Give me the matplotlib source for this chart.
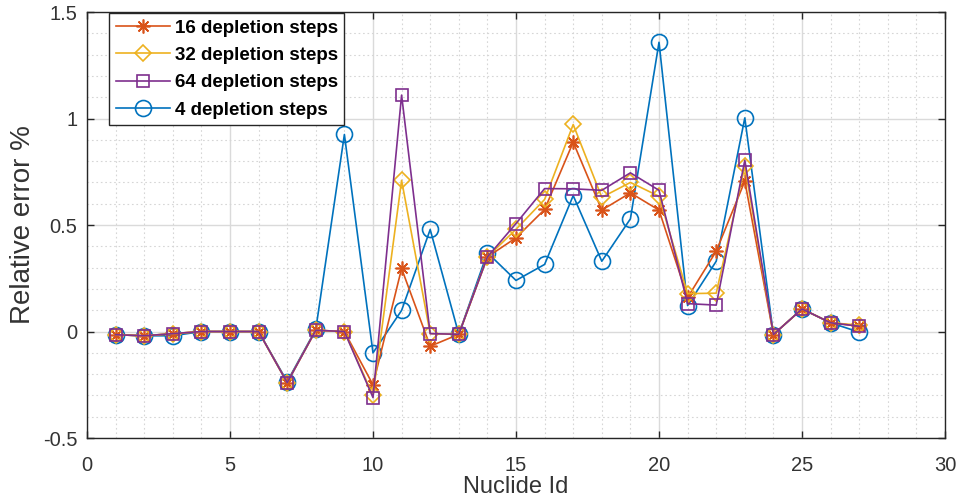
import matplotlib
matplotlib.use("Agg")
import matplotlib.pyplot as plt
from matplotlib.ticker import MultipleLocator

plt.rcParams['font.family'] = ['Liberation Sans', 'DejaVu Sans']

nuclide_id = list(range(1, 28))

steps16 = [-0.015, -0.02, -0.01, 0.0, 0.0, 0.0, -0.24, 0.006, 0.0, -0.25,
           0.296, -0.069, -0.013, 0.35, 0.44, 0.573, 0.889, 0.57, 0.651, 0.57,
           0.16, 0.377, 0.706, -0.014, 0.106, 0.041, 0.025]
steps32 = [-0.015, -0.02, -0.01, 0.0, 0.0, 0.0, -0.24, 0.006, 0.0, -0.30,
           0.71, -0.01, -0.013, 0.35, 0.48, 0.62, 0.972, 0.63, 0.70, 0.635,
           0.178, 0.18, 0.776, -0.014, 0.106, 0.041, 0.03]
steps64 = [-0.015, -0.02, -0.01, 0.0, 0.0, 0.0, -0.24, 0.006, 0.0, -0.31,
           1.11, -0.01, -0.013, 0.35, 0.507, 0.671, 0.67, 0.663, 0.745, 0.663,
           0.131, 0.124, 0.804, -0.014, 0.106, 0.041, 0.025]
steps4 = [-0.015, -0.02, -0.02, 0.0, 0.0, 0.0, -0.235, 0.01, 0.925, -0.10,
          0.099, 0.479, -0.013, 0.37, 0.24, 0.315, 0.638, 0.33, 0.529, 1.358,
          0.122, 0.33, 1.003, -0.014, 0.106, 0.041, -0.003]

labels = ['16 depletion steps', '32 depletion steps', '64 depletion steps', '4 depletion steps']

fig = plt.figure(figsize=(9.6, 5.01), dpi=100)
ax = fig.add_axes([0.0906, 0.1257, 0.8938, 0.8503])

lw = 1.2
l4, = ax.plot(nuclide_id, steps4, color='#0072BD', marker='o', mfc='none', ms=11.5, lw=lw, mew=1.2, zorder=3)
l16, = ax.plot(nuclide_id, steps16, color='#D95319', marker=(8, 2, 0), mfc='none', ms=10, lw=lw, mew=1.2, zorder=4)
l32, = ax.plot(nuclide_id, steps32, color='#EDB120', marker='D', mfc='none', ms=8.5, lw=lw, mew=1.2, zorder=5)
l64, = ax.plot(nuclide_id, steps64, color='#7E2F8E', marker='s', mfc='none', ms=9, lw=lw, mew=1.2, zorder=6)

ax.set_xlim(0, 30)
ax.set_ylim(-0.5, 1.5)
ax.xaxis.set_major_locator(MultipleLocator(5))
ax.xaxis.set_minor_locator(MultipleLocator(1))
ax.yaxis.set_minor_locator(MultipleLocator(0.1))
ax.set_yticks([-0.5, 0, 0.5, 1, 1.5])
ax.set_yticklabels(['-0.5', '0', '0.5', '1', '1.5'])

ax.grid(True, which='major', color='#dadada', lw=1.0, ls='-', zorder=0)
ax.grid(True, which='minor', color='#d6d6d6', lw=0.8, ls=(0, (1.5, 2.5)), zorder=0)
ax.set_axisbelow(True)

ax.tick_params(which='both', direction='in', top=True, right=True, colors='#262626',
               labelcolor='#333333')
ax.tick_params(which='major', length=5, width=1.0)
ax.tick_params(which='minor', length=0)
ax.tick_params(axis='x', labelsize=14.5, pad=13)
ax.tick_params(axis='y', labelsize=14.5, pad=7)
for s in ax.spines.values():
    s.set_color('#262626')
    s.set_linewidth(1.0)

ax.set_xlabel('Nuclide Id', fontsize=17, color='#333333', labelpad=1)
ax.set_ylabel('Relative error %', fontsize=20, color='#333333', labelpad=5)

leg = ax.legend([l16, l32, l64, l4], labels, loc='upper left',
                bbox_to_anchor=(0.0256, 0.998), fancybox=False, framealpha=1,
                edgecolor='#262626', prop={'weight': 'bold', 'size': 13.5},
                handlelength=2.9, borderpad=0.35, labelspacing=0.55,
                handletextpad=0.25, borderaxespad=0)
leg.get_frame().set_linewidth(1.0)
leg.set_zorder(10)

fig.savefig('out.png', dpi=100)
